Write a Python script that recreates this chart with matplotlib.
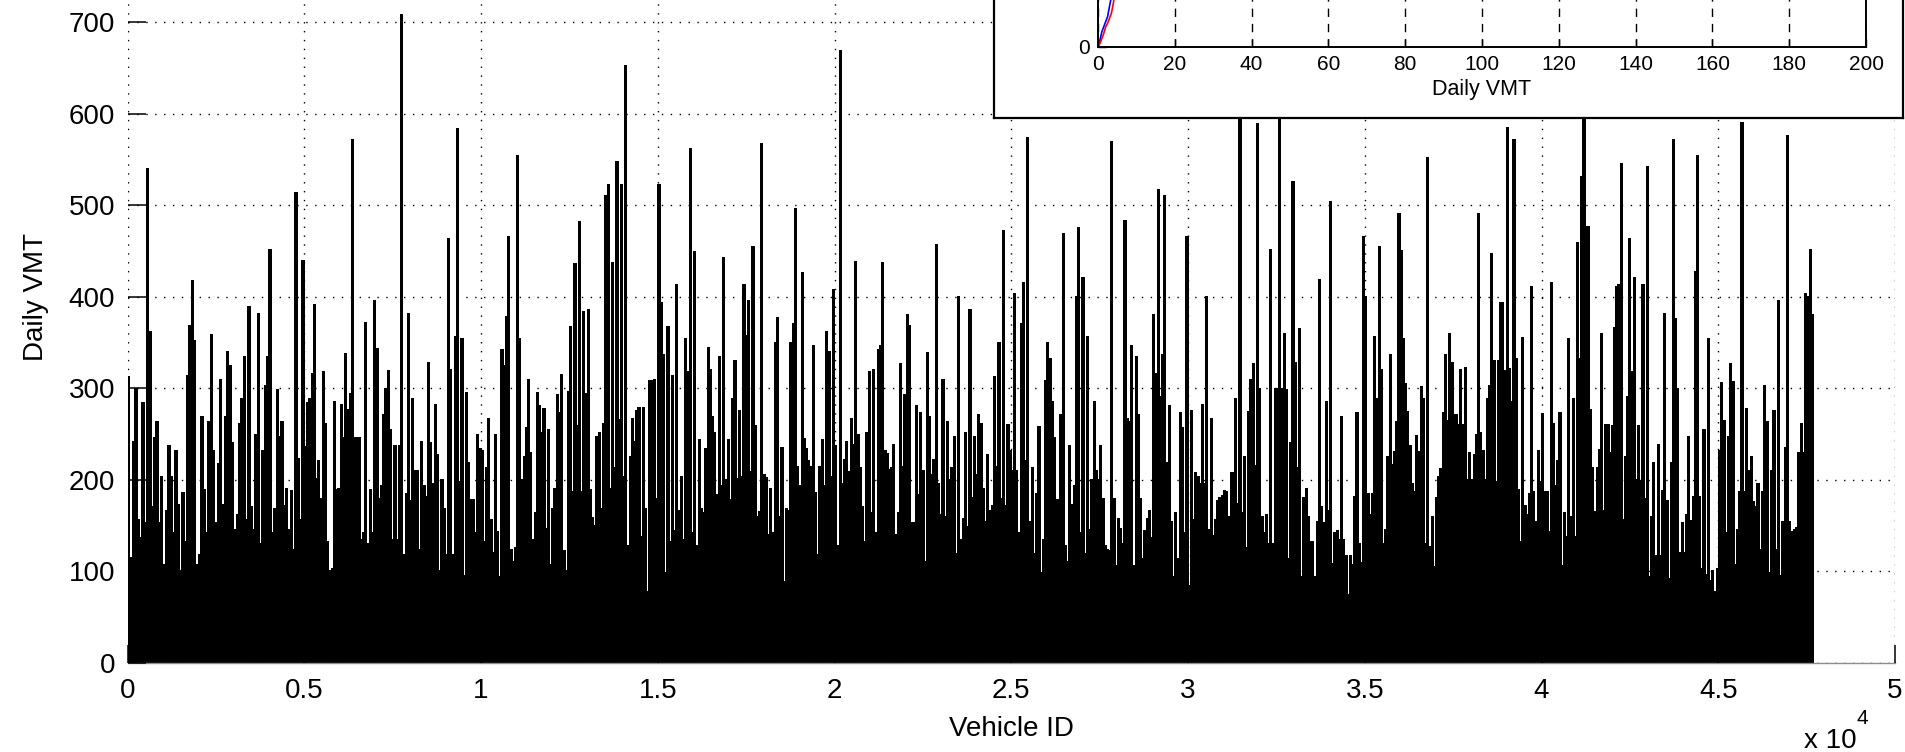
import numpy as np
import matplotlib
matplotlib.use("Agg")
import matplotlib.pyplot as plt

plt.rcParams["font.family"] = ["Liberation Sans", "DejaVu Sans"]

# ---------------------------------------------------------------------------
# Daily VMT per vehicle, listed left to right inside blocks of vehicle IDs
# ---------------------------------------------------------------------------
block_start = [0, 5000, 10000, 15000, 20000, 25000, 30000, 35000, 40000, 45000]
block_end = [5000, 10000, 15000, 20000, 25000, 30000, 35000, 40000, 45000, 47700]

vmt_00k = [313, 115, 242, 300, 157, 137, 284, 153, 540, 362, 171, 246, 264, 153, 204,
           108, 166, 237, 204, 142, 232, 173, 101, 186, 133, 314, 369, 418, 352, 108,
           119, 269, 189, 142, 264, 359, 232, 153, 218, 310, 173, 269, 340, 325, 241,
           146, 162, 262, 289, 335, 157, 389, 171, 146, 249, 382, 130, 232, 303, 335,
           452, 142, 169, 299, 247, 264, 172, 191, 146, 188, 124, 514, 223, 157, 440]
vmt_05k = [236, 284, 289, 316, 391, 202, 221, 180, 318, 262, 133, 101, 103, 286, 189,
           191, 282, 246, 338, 277, 294, 572, 246, 246, 246, 135, 142, 372, 130, 189,
           142, 396, 343, 180, 194, 271, 300, 319, 255, 135, 238, 135, 237, 708, 119,
           185, 382, 178, 289, 210, 210, 124, 242, 194, 182, 328, 241, 196, 282, 228,
           101, 200, 169, 119, 464, 320, 119, 357, 584, 198, 354, 96, 295, 219, 179,
           179, 142, 249, 234]
vmt_10k = [232, 133, 214, 267, 157, 121, 249, 144, 94, 342, 325, 378, 466, 124, 111,
           126, 554, 354, 200, 225, 257, 310, 230, 135, 164, 295, 281, 252, 278, 147,
           255, 108, 169, 191, 293, 274, 315, 123, 101, 296, 367, 187, 436, 259, 482,
           187, 384, 294, 386, 189, 159, 150, 247, 252, 169, 262, 511, 523, 191, 437,
           213, 548, 266, 523, 204, 652, 128, 225, 267, 242, 276, 279, 138, 279, 169,
           78, 308, 308, 310, 180]
vmt_15k = [523, 394, 337, 99, 367, 133, 314, 145, 413, 167, 204, 135, 354, 318, 562,
           142, 449, 128, 244, 169, 164, 234, 345, 320, 269, 252, 184, 335, 194, 443,
           200, 244, 179, 289, 330, 201, 276, 204, 413, 358, 396, 209, 455, 259, 160,
           165, 567, 206, 203, 140, 191, 143, 350, 377, 160, 235, 89, 169, 167, 350,
           371, 496, 215, 194, 426, 245, 234, 221, 215, 347, 186, 118, 215, 244, 194,
           362, 340, 204, 408]
vmt_20k = [237, 128, 669, 196, 222, 242, 209, 267, 239, 439, 249, 213, 171, 133, 252,
           318, 164, 320, 142, 342, 347, 437, 232, 229, 211, 213, 239, 140, 164, 327,
           215, 293, 381, 369, 153, 153, 281, 184, 274, 210, 111, 339, 269, 206, 222,
           457, 196, 162, 310, 160, 264, 200, 213, 247, 120, 400, 135, 158, 252, 149,
           386, 181, 247, 206, 271, 262, 191, 155, 228, 167, 172, 313, 215, 350, 180,
           472, 172, 261, 232]
vmt_25k = [210, 403, 210, 143, 371, 415, 221, 574, 155, 213, 120, 185, 258, 99, 135,
           308, 350, 333, 286, 246, 179, 179, 271, 469, 128, 111, 237, 173, 194, 400,
           476, 142, 421, 120, 357, 146, 200, 286, 210, 200, 237, 180, 128, 124, 123,
           569, 180, 106, 158, 147, 130, 483, 267, 264, 347, 106, 335, 271, 180, 114,
           145, 158, 167, 137, 381, 316, 517, 291, 337, 510, 219, 281, 155, 94, 164,
           114, 274, 257, 143, 466]
vmt_30k = [85, 276, 157, 208, 204, 196, 282, 196, 400, 146, 267, 139, 157, 178, 181,
           183, 188, 187, 160, 208, 208, 289, 174, 620, 164, 225, 126, 275, 310, 327,
           216, 589, 300, 160, 142, 162, 130, 452, 130, 300, 300, 650, 300, 360, 299,
           114, 241, 526, 328, 214, 365, 94, 181, 191, 160, 133, 133, 94, 155, 419,
           171, 153, 286, 167, 504, 109, 142, 145, 135, 269, 135, 117, 75, 117, 108,
           182, 274, 130, 110, 466]
vmt_35k = [400, 185, 162, 185, 357, 289, 455, 320, 130, 146, 225, 337, 217, 231, 264,
           491, 450, 354, 305, 275, 237, 196, 187, 248, 231, 302, 289, 130, 552, 127,
           160, 105, 181, 204, 212, 274, 337, 265, 360, 328, 271, 271, 261, 320, 261,
           323, 200, 230, 200, 228, 249, 491, 252, 232, 200, 289, 303, 447, 330, 198,
           330, 394, 394, 319, 585, 322, 286, 572, 333, 189, 133, 355, 172, 162, 185,
           411, 187, 155, 232, 198]
vmt_40k = [272, 187, 187, 144, 415, 262, 194, 221, 274, 106, 164, 138, 354, 160, 289,
           138, 459, 333, 531, 640, 477, 477, 277, 214, 165, 214, 233, 360, 167, 261,
           261, 230, 259, 366, 411, 413, 546, 157, 225, 291, 464, 318, 421, 200, 259,
           198, 413, 180, 542, 94, 160, 219, 117, 239, 117, 188, 382, 177, 92, 219,
           572, 376, 300, 121, 153, 121, 162, 247, 156, 182, 428, 554, 182, 103, 255,
           97, 354, 90, 101, 78, 103]
vmt_45k = [232, 306, 265, 142, 247, 327, 307, 108, 146, 187, 590, 187, 278, 210, 225,
           176, 171, 196, 124, 187, 303, 264, 99, 210, 276, 124, 396, 96, 154, 235,
           576, 154, 144, 146, 148, 230, 262, 230, 404, 400, 452, 381]

vmt_blocks = [vmt_00k, vmt_05k, vmt_10k, vmt_15k, vmt_20k,
              vmt_25k, vmt_30k, vmt_35k, vmt_40k, vmt_45k]

# Inset: cumulative curves versus daily VMT
inset_vmt = [0, 0.5, 1, 1.5, 2, 2.5, 3, 3.5, 4, 5, 6]
inset_blue = [0, 0.02, 0.045, 0.06, 0.075, 0.09, 0.12, 0.15, 0.19, 0.25, 0.3]
inset_red = [0, 0.01, 0.025, 0.04, 0.06, 0.07, 0.085, 0.1, 0.13, 0.2, 0.26]

x_ticks = [0, 5000, 10000, 15000, 20000, 25000, 30000, 35000, 40000, 45000, 50000]
x_tick_labels = ["0", "0.5", "1", "1.5", "2", "2.5", "3", "3.5", "4", "4.5", "5"]
y_ticks = [0, 100, 200, 300, 400, 500, 600, 700]
inset_x_ticks = [0, 20, 40, 60, 80, 100, 120, 140, 160, 180, 200]

# ---------------------------------------------------------------------------
W, H = 1905, 752
fig = plt.figure(figsize=(W / 100, H / 100), dpi=100)
fig.patch.set_facecolor("white")


def fxp(px):
    return px / W


def fyp(py):
    return 1 - py / H


x0, x1 = 127.6, 1895.0
y_zero, y_700 = 663.0, 22.0
ax_h = (y_zero - y_700) / 700 * 800
ax = fig.add_axes([fxp(x0), fyp(y_zero), fxp(x1) - fxp(x0), ax_h / H])

edges = [0.0]
values = []
for start, end, vals in zip(block_start, block_end, vmt_blocks):
    e = np.linspace(start, end, len(vals) + 1)
    edges.extend(e[1:])
    values.extend(vals)
ax.stairs(values, edges, fill=True, color="black", antialiased=False, zorder=1)

ax.set_xlim(0, 50000)
ax.set_ylim(0, 800)
ax.set_xticks(x_ticks)
ax.set_xticklabels(x_tick_labels)
ax.set_yticks(y_ticks)
ax.set_yticklabels([str(v) for v in y_ticks])

dotted = (0, (1.0, 5.4))
ax.grid(True, color="black", linestyle=dotted, linewidth=1.0)
ax.set_axisbelow(False)

for side in ("top", "right", "left"):
    ax.spines[side].set_visible(False)
ax.spines["bottom"].set_color("0.55")
ax.spines["bottom"].set_linewidth(1.0)

ax.tick_params(axis="both", direction="in", length=13, width=1.1, color="black",
               labelsize=20, pad=9)
ax.tick_params(axis="x", top=False, bottom=True, pad=11)
ax.tick_params(axis="y", left=True, right=False)

ax.set_xlabel("Vehicle ID", fontsize=20, labelpad=2)
ax.set_ylabel("Daily VMT", fontsize=20, labelpad=14)
ax.xaxis.set_label_coords(0.5, -0.072 * 0.9742 / (ax_h / H))

fig.text(fxp(1830), fyp(741), "x 10", fontsize=20, ha="center", va="center")
fig.text(fxp(1862), fyp(718), "4", fontsize=15, ha="center", va="center")

# ---------------------------------------------------------------------------
# Inset panel
box_ax = fig.add_axes([fxp(994), fyp(118), fxp(1903) - fxp(994), 0.4], zorder=5)
box_ax.set_facecolor("white")
box_ax.set_xticks([])
box_ax.set_yticks([])
for s in box_ax.spines.values():
    s.set_linewidth(1.6)
    s.set_color("black")

ins = fig.add_axes([fxp(1098), fyp(47), fxp(1866) - fxp(1098), 0.45], zorder=6)
ins.set_facecolor("white")
ins.plot(inset_vmt, inset_blue, color="blue", linewidth=1.2)
ins.plot(inset_vmt, inset_red, color="red", linewidth=1.2)
ins.set_xlim(0, 200)
ins.set_ylim(0, 1)
ins.set_xticks(inset_x_ticks)
ins.set_xticklabels([str(v) for v in inset_x_ticks])
ins.set_yticks([0])
ins.set_yticklabels(["0"])
ins.grid(True, axis="x", color="black", linestyle=(0, (6, 5)), linewidth=1.0)
ins.set_axisbelow(True)
ins.tick_params(axis="both", direction="in", length=6, width=1, labelsize=15, pad=6)
ins.set_xlabel("Daily VMT", fontsize=15.5, labelpad=3)
for s in ins.spines.values():
    s.set_linewidth(1.4)
    s.set_color("black")

fig.savefig("out.png", dpi=100, facecolor="white")
